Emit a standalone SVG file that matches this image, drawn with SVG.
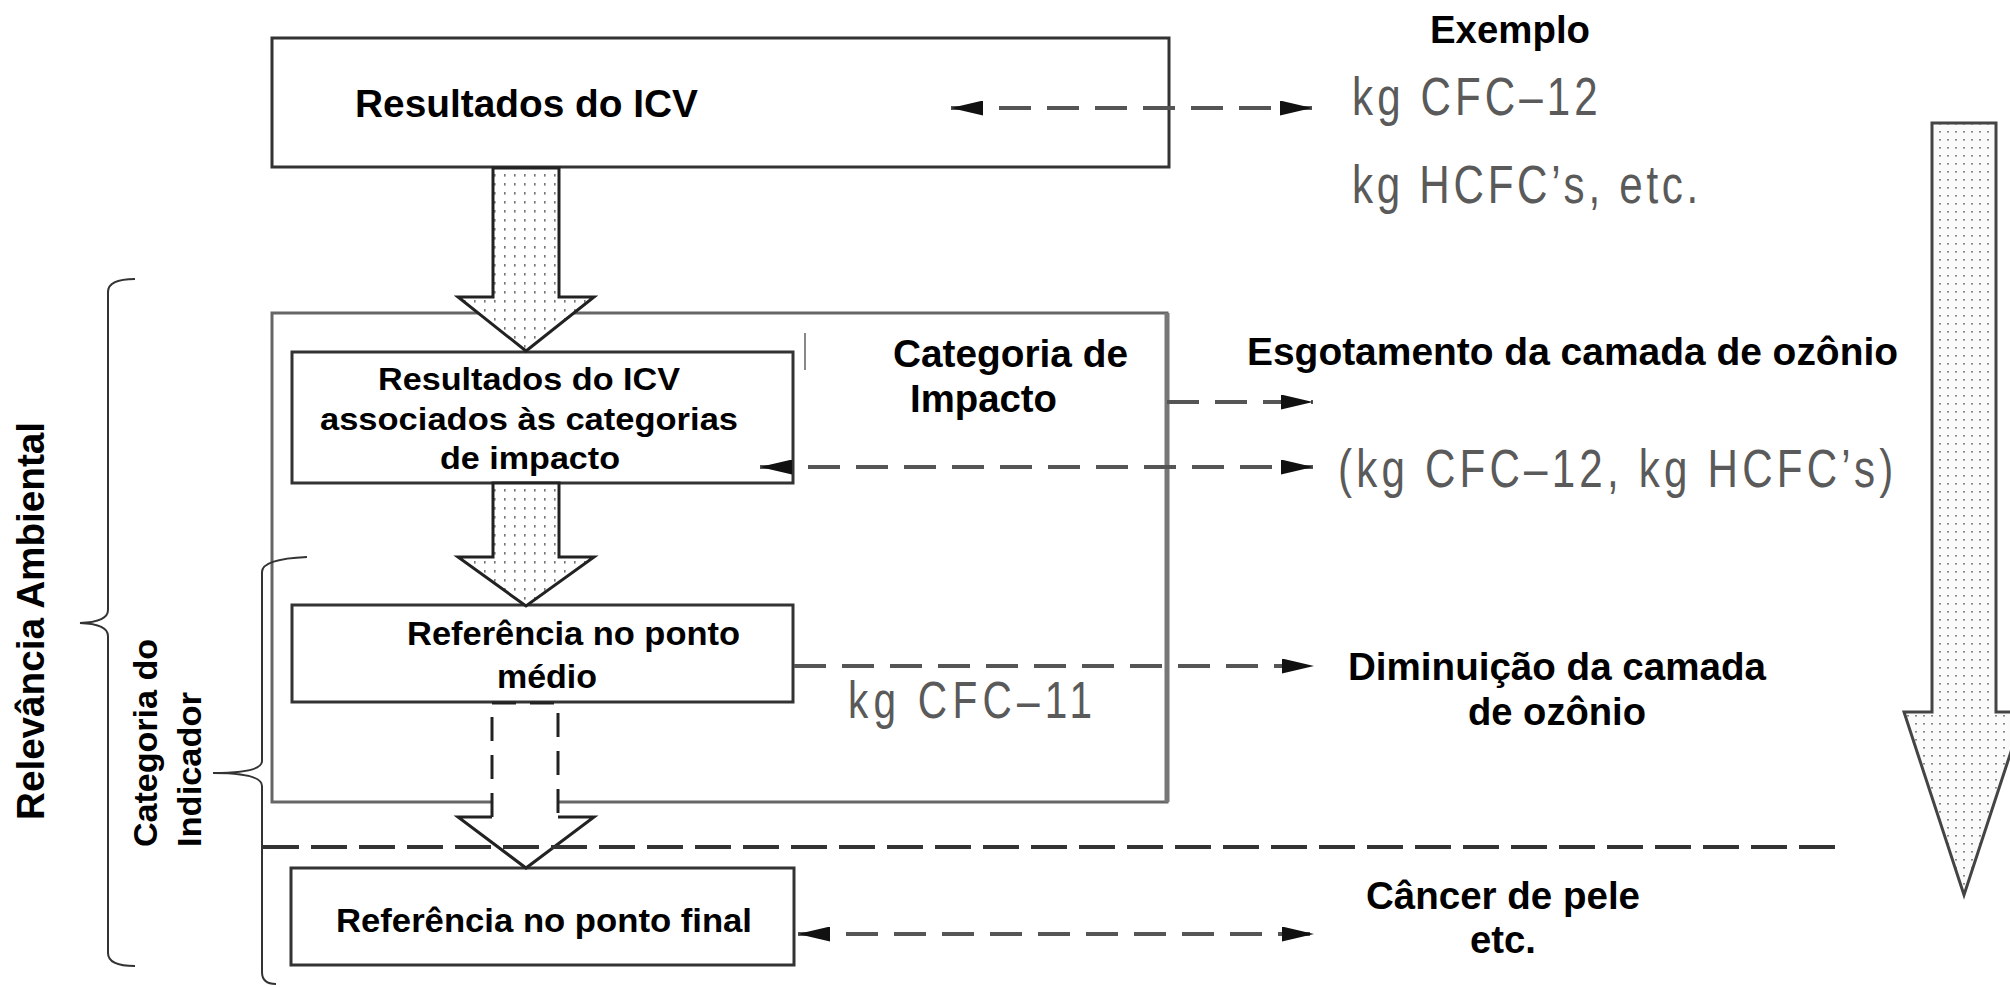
<svg xmlns="http://www.w3.org/2000/svg" width="2010" height="987" viewBox="0 0 2010 987">
<style>
.box{fill:#fff;stroke:#333;stroke-width:3}
.obox{fill:none;stroke:#666;stroke-width:3}
.t{font-family:"Liberation Sans",Arial,sans-serif;font-weight:bold;fill:#000}
.cad{font-family:"Liberation Sans",Arial,sans-serif;fill:#5a5a5a}
.dash{stroke:#555;stroke-width:4;stroke-dasharray:32 16;fill:none}
.sep{stroke:#333;stroke-width:4;stroke-dasharray:36 12;fill:none}
.brace{fill:none;stroke:#333;stroke-width:2}
.arrow{fill:url(#dots);stroke:#222;stroke-width:3;stroke-linejoin:miter}
.arrowR{fill:url(#dots2);stroke:#444;stroke-width:3}
</style>
<defs>
<pattern id="dots" width="10" height="9" patternUnits="userSpaceOnUse">
<rect width="10" height="9" fill="#fff"/>
<rect x="4" y="3" width="1.6" height="2.6" fill="#777"/>
</pattern>
<pattern id="dots2" width="8" height="8" patternUnits="userSpaceOnUse">
<rect width="8" height="8" fill="#fafafa"/>
<rect x="3" y="3" width="2" height="1.6" fill="#888"/>
</pattern>
<marker id="ah" markerUnits="userSpaceOnUse" markerWidth="32" markerHeight="15" refX="32" refY="7.5" orient="auto-start-reverse">
<path d="M0,0 L32,7.5 L0,15 Z" fill="#111"/>
</marker>
</defs>

<g id="outer-impact-category">
<path class="obox" d="M492,802 H272 V313 H1167 V802 H558"/>
<line x1="1167" y1="313" x2="1167" y2="802" stroke="#777" stroke-width="5"/>
<text class="t" x="893" y="367" font-size="38" textLength="235" lengthAdjust="spacingAndGlyphs">Categoria de</text>
<text class="t" x="910" y="412" font-size="38" textLength="147" lengthAdjust="spacingAndGlyphs">Impacto</text>
<line x1="805" y1="333" x2="805" y2="370" stroke="#888" stroke-width="2"/>
</g>

<g id="node-icv">
<rect class="box" x="272" y="38" width="897" height="129"/>
<text class="t" x="355" y="117" font-size="39" textLength="343" lengthAdjust="spacingAndGlyphs">Resultados do ICV</text>
</g>

<g id="node-icv-assoc">
<rect class="box" x="292" y="352" width="501" height="131"/>
<text class="t" x="378" y="390" font-size="32" textLength="302" lengthAdjust="spacingAndGlyphs">Resultados do ICV</text>
<text class="t" x="320" y="430" font-size="32" textLength="418" lengthAdjust="spacingAndGlyphs">associados às categorias</text>
<text class="t" x="440" y="469" font-size="32" textLength="180" lengthAdjust="spacingAndGlyphs">de impacto</text>
</g>

<g id="node-midpoint">
<rect class="box" x="292" y="605" width="501" height="97"/>
<text class="t" x="407" y="645" font-size="33" textLength="333" lengthAdjust="spacingAndGlyphs">Referência no ponto</text>
<text class="t" x="497" y="688" font-size="33" textLength="100" lengthAdjust="spacingAndGlyphs">médio</text>
</g>

<g id="node-endpoint">
<rect class="box" x="291" y="868" width="503" height="97"/>
<text class="t" x="336" y="932" font-size="33" textLength="416" lengthAdjust="spacingAndGlyphs">Referência no ponto final</text>
</g>

<g id="flow-arrows">
<polygon class="arrow" points="493,168 559,168 559,297 594,297 526,351 458,297 493,297"/>
<polygon class="arrow" points="493,483 559,483 559,557 594,557 526,606 458,557 493,557"/>
<path d="M492,817 V703 H558 V817" fill="none" stroke="#222" stroke-width="3" stroke-dasharray="24 14"/>
<path d="M492,817 H458 L526,868 L594,817 H558" fill="none" stroke="#222" stroke-width="3"/>
<polygon class="arrowR" points="1932,123 1996,123 1996,712 2024,712 1964,895 1904,712 1932,712"/>
</g>

<g id="connectors">
<line class="dash" x1="951" y1="108" x2="1312" y2="108" marker-start="url(#ah)" marker-end="url(#ah)"/>
<line class="dash" x1="1167" y1="402" x2="1313" y2="402" marker-end="url(#ah)"/>
<line class="dash" x1="760" y1="467" x2="1313" y2="467" marker-start="url(#ah)" marker-end="url(#ah)"/>
<line class="dash" x1="794" y1="666" x2="1314" y2="666" marker-end="url(#ah)"/>
<line class="dash" x1="798" y1="934" x2="1314" y2="934" marker-start="url(#ah)" marker-end="url(#ah)"/>
<line class="sep" x1="263" y1="847" x2="1846" y2="847"/>
</g>

<g id="braces">
<path class="brace" d="M135,279 Q108,279 108,292 V610 Q108,622 80,623 Q108,624 108,636 V953 Q108,966 135,966"/>
<path class="brace" d="M307,557 Q262,559 262,572 V761 Q262,773 213,773 Q262,773 262,786 V972 Q262,984 276,984"/>
<text class="t" font-size="38" transform="translate(44,820) rotate(-90)" textLength="398" lengthAdjust="spacingAndGlyphs">Relevância Ambiental</text>
<text class="t" font-size="34" transform="translate(157,847) rotate(-90)" textLength="208" lengthAdjust="spacingAndGlyphs">Categoria do</text>
<text class="t" font-size="34" transform="translate(201,847) rotate(-90)" textLength="155" lengthAdjust="spacingAndGlyphs">Indicador</text>
</g>

<g id="examples">
<text class="t" x="1430" y="43" font-size="38" textLength="160" lengthAdjust="spacingAndGlyphs">Exemplo</text>
<text class="cad" transform="translate(1352,115) scale(0.78,1)" font-size="54" textLength="315" lengthAdjust="spacing">kg  CFC–12</text>
<text class="cad" transform="translate(1352,203) scale(0.78,1)" font-size="54" textLength="444" lengthAdjust="spacing">kg  HCFC’s,  etc.</text>
<text class="t" x="1247" y="365" font-size="38" textLength="651" lengthAdjust="spacingAndGlyphs">Esgotamento da camada de ozônio</text>
<text class="cad" transform="translate(1338,487) scale(0.78,1)" font-size="54" textLength="712" lengthAdjust="spacing">(kg  CFC–12,  kg  HCFC’s)</text>
<text class="cad" transform="translate(848,718) scale(0.78,1)" font-size="52" textLength="313" lengthAdjust="spacing">kg  CFC–11</text>
<text class="t" x="1348" y="680" font-size="38" textLength="418" lengthAdjust="spacingAndGlyphs">Diminuição da camada</text>
<text class="t" x="1468" y="725" font-size="38" textLength="178" lengthAdjust="spacingAndGlyphs">de ozônio</text>
<text class="t" x="1366" y="909" font-size="38" textLength="274" lengthAdjust="spacingAndGlyphs">Câncer de pele</text>
<text class="t" x="1470" y="953" font-size="38" textLength="66" lengthAdjust="spacingAndGlyphs">etc.</text>
</g>
</svg>
